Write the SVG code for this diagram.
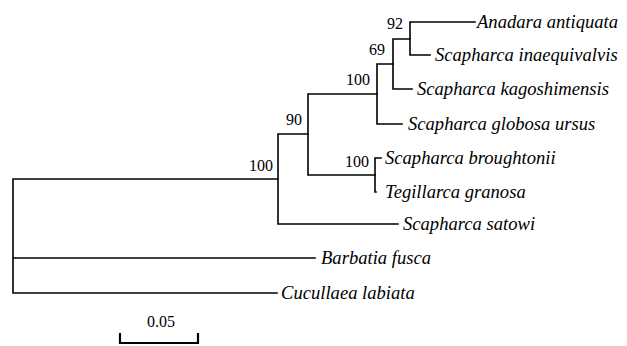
<svg xmlns="http://www.w3.org/2000/svg" width="627" height="346" viewBox="0 0 627 346">
<rect width="627" height="346" fill="#fff"/>
<g id="connectors" fill="none" stroke="#000" stroke-width="1.6" stroke-linecap="square">
<path d="M13,179 V293 M13,179 H278 M13,258 H315 M13,293 H277"/>
<path d="M278,134 V224 M278,224 H398 M278,134 H308"/>
<path d="M308,94 V175 M308,94 H377 M308,175 H375"/>
<path d="M375,158 V192 M375,158 H381 M375,192 H376"/>
<path d="M377,64 V124 M377,124 H402 M377,64 H393"/>
<path d="M393,39 V89 M393,89 H412 M393,39 H410"/>
<path d="M410,22 V55 M410,22 H475 M410,55 H430"/>
</g>
<g id="leaves" font-style="italic" font-size="18.6" fill="#000">
<g id="leaf-anadara-antiquata"><text style="font-family:'Liberation Serif',serif" x="477" y="28">Anadara antiquata</text></g>
<g id="leaf-scapharca-inaequivalvis"><text style="font-family:'Liberation Serif',serif" x="435" y="61">Scapharca inaequivalvis</text></g>
<g id="leaf-scapharca-kagoshimensis"><text style="font-family:'Liberation Serif',serif" x="417" y="95">Scapharca kagoshimensis</text></g>
<g id="leaf-scapharca-globosa-ursus"><text style="font-family:'Liberation Serif',serif" x="408" y="130">Scapharca globosa ursus</text></g>
<g id="leaf-scapharca-broughtonii"><text style="font-family:'Liberation Serif',serif" x="385" y="164">Scapharca broughtonii</text></g>
<g id="leaf-tegillarca-granosa"><text style="font-family:'Liberation Serif',serif" x="385" y="198">Tegillarca granosa</text></g>
<g id="leaf-scapharca-satowi"><text style="font-family:'Liberation Serif',serif" x="403" y="230">Scapharca satowi</text></g>
<g id="leaf-barbatia-fusca"><text style="font-family:'Liberation Serif',serif" x="321" y="264">Barbatia fusca</text></g>
<g id="leaf-cucullaea-labiata"><text style="font-family:'Liberation Serif',serif" x="281" y="299">Cucullaea labiata</text></g>
</g>
<g id="bootstrap" font-size="16" text-anchor="end" fill="#000">
<g id="node-92"><text style="font-family:'Liberation Serif',serif" x="403" y="29">92</text></g>
<g id="node-69"><text style="font-family:'Liberation Serif',serif" x="385" y="55">69</text></g>
<g id="node-100a"><text style="font-family:'Liberation Serif',serif" x="370" y="85">100</text></g>
<g id="node-90"><text style="font-family:'Liberation Serif',serif" x="302" y="125">90</text></g>
<g id="node-100b"><text style="font-family:'Liberation Serif',serif" x="369" y="167">100</text></g>
<g id="node-100root"><text style="font-family:'Liberation Serif',serif" x="273" y="171">100</text></g>
</g>
<g id="scale-bar">
<path d="M120,343 H198 M120,333 V344 M198,333 V344" fill="none" stroke="#000" stroke-width="2.2"/>
<text style="font-family:'Liberation Serif',serif" font-size="16" text-anchor="middle" x="161" y="327">0.05</text>
</g>
</svg>
